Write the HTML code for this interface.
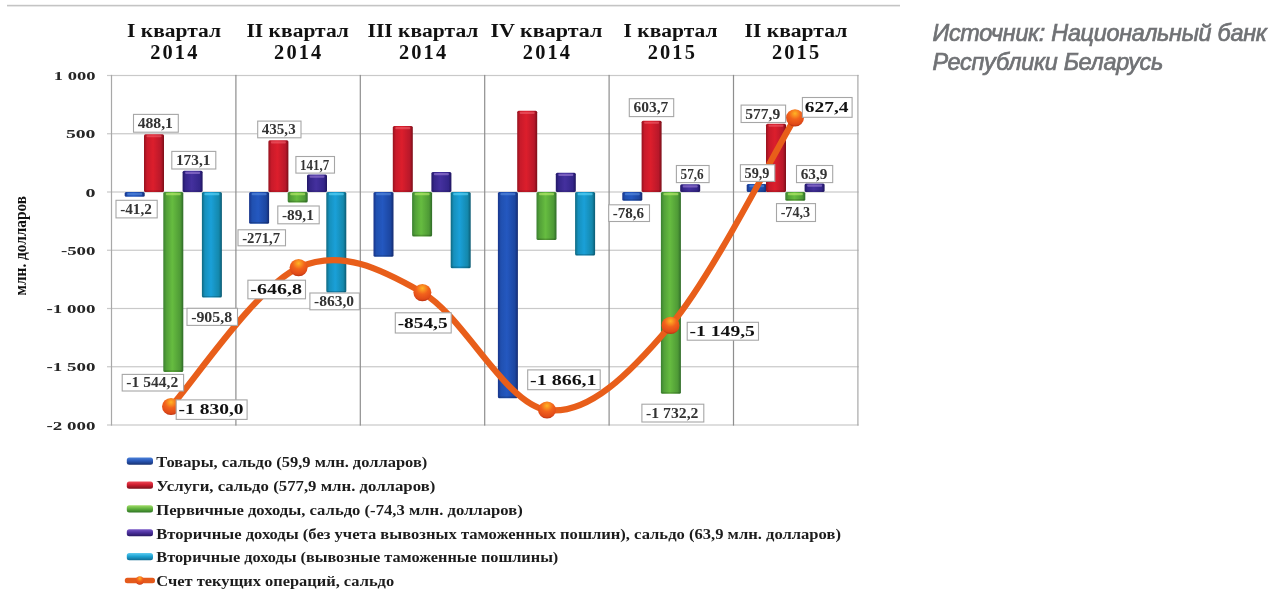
<!DOCTYPE html>
<html><head><meta charset="utf-8"><style>
html,body{margin:0;padding:0;background:#fff;}
body{width:1273px;height:594px;position:relative;overflow:hidden;}
svg{position:absolute;left:0;top:0;font-family:"Liberation Serif",serif;filter:blur(0.35px);}
</style></head><body>
<svg width="1273" height="594" viewBox="0 0 1273 594">
<defs>
<linearGradient id="gB" x1="0" x2="1" y1="0" y2="0">
 <stop offset="0" stop-color="#18348a"/><stop offset="0.15" stop-color="#2050b0"/><stop offset="0.45" stop-color="#2458c0"/><stop offset="0.85" stop-color="#1c46a0"/><stop offset="1" stop-color="#142a70"/></linearGradient>
<linearGradient id="gR" x1="0" x2="1" y1="0" y2="0">
 <stop offset="0" stop-color="#96121e"/><stop offset="0.15" stop-color="#c81a2a"/><stop offset="0.45" stop-color="#dc1e2c"/><stop offset="0.85" stop-color="#b8182a"/><stop offset="1" stop-color="#7c0e18"/></linearGradient>
<linearGradient id="gG" x1="0" x2="1" y1="0" y2="0">
 <stop offset="0" stop-color="#3a8030"/><stop offset="0.15" stop-color="#52a038"/><stop offset="0.45" stop-color="#66bc40"/><stop offset="0.85" stop-color="#4e9a36"/><stop offset="1" stop-color="#2e6a28"/></linearGradient>
<linearGradient id="gP" x1="0" x2="1" y1="0" y2="0">
 <stop offset="0" stop-color="#221866"/><stop offset="0.15" stop-color="#36268a"/><stop offset="0.45" stop-color="#44309e"/><stop offset="0.85" stop-color="#34268a"/><stop offset="1" stop-color="#1e145e"/></linearGradient>
<linearGradient id="gC" x1="0" x2="1" y1="0" y2="0">
 <stop offset="0" stop-color="#0e6880"/><stop offset="0.15" stop-color="#1690bc"/><stop offset="0.45" stop-color="#1aa0d8"/><stop offset="0.85" stop-color="#1488ac"/><stop offset="1" stop-color="#0c5a72"/></linearGradient>
<radialGradient id="gM" cx="0.5" cy="0.25" r="0.75">
 <stop offset="0" stop-color="#ffb424"/><stop offset="0.45" stop-color="#f2621c"/><stop offset="0.85" stop-color="#e04a18"/><stop offset="1" stop-color="#b83010"/></radialGradient>
</defs>
<defs><linearGradient id="gBV" x1="0" x2="0" y1="0" y2="1"><stop offset="0" stop-color="#4a80d8"/><stop offset="0.45" stop-color="#2a58b8"/><stop offset="1" stop-color="#16306e"/></linearGradient><linearGradient id="gRV" x1="0" x2="0" y1="0" y2="1"><stop offset="0" stop-color="#f04a58"/><stop offset="0.45" stop-color="#d01e30"/><stop offset="1" stop-color="#7c0e18"/></linearGradient><linearGradient id="gGV" x1="0" x2="0" y1="0" y2="1"><stop offset="0" stop-color="#a0dc68"/><stop offset="0.45" stop-color="#64b440"/><stop offset="1" stop-color="#2e7424"/></linearGradient><linearGradient id="gPV" x1="0" x2="0" y1="0" y2="1"><stop offset="0" stop-color="#7a5ac8"/><stop offset="0.45" stop-color="#4e32a0"/><stop offset="1" stop-color="#261660"/></linearGradient><linearGradient id="gCV" x1="0" x2="0" y1="0" y2="1"><stop offset="0" stop-color="#60ccf0"/><stop offset="0.45" stop-color="#1ea4d4"/><stop offset="1" stop-color="#106c94"/></linearGradient></defs>
<rect x="7" y="4.8" width="893" height="1.6" fill="#c4c4c4"/>
<rect x="107" y="74.90" width="751.70" height="1.2" fill="#c9c9c9"/>
<rect x="107" y="133.15" width="751.70" height="1.2" fill="#c9c9c9"/>
<rect x="107" y="191.40" width="751.70" height="1.2" fill="#c9c9c9"/>
<rect x="107" y="249.65" width="751.70" height="1.2" fill="#c9c9c9"/>
<rect x="107" y="307.90" width="751.70" height="1.2" fill="#c9c9c9"/>
<rect x="107" y="366.15" width="751.70" height="1.2" fill="#c9c9c9"/>
<rect x="107" y="424.40" width="751.70" height="1.2" fill="#c9c9c9"/>
<rect x="110.90" y="74.90" width="1.2" height="350.70" fill="#a8a8a8"/>
<rect x="235.30" y="74.90" width="1.2" height="350.70" fill="#8e8e8e"/>
<rect x="359.70" y="74.90" width="1.2" height="350.70" fill="#8e8e8e"/>
<rect x="484.10" y="74.90" width="1.2" height="350.70" fill="#8e8e8e"/>
<rect x="608.50" y="74.90" width="1.2" height="350.70" fill="#8e8e8e"/>
<rect x="732.90" y="74.90" width="1.2" height="350.70" fill="#8e8e8e"/>
<rect x="857.30" y="74.90" width="1.2" height="350.70" fill="#a8a8a8"/>
<rect x="124.70" y="192.00" width="20" height="4.80" rx="1.5" fill="url(#gB)"/>
<rect x="127.20" y="193.00" width="15" height="2.20" rx="1" fill="#5a8ee0" opacity="0.6"/>
<rect x="144.00" y="134.14" width="20" height="57.86" rx="1.5" fill="url(#gR)"/>
<rect x="146.50" y="135.14" width="15" height="2.20" rx="1" fill="#f0606c" opacity="0.6"/>
<rect x="145.00" y="190.40" width="18" height="1.4" rx="0.7" fill="#000" opacity="0.18"/>
<rect x="163.30" y="192.00" width="20" height="179.90" rx="1.5" fill="url(#gG)"/>
<rect x="165.80" y="193.00" width="15" height="2.20" rx="1" fill="#c0f070" opacity="0.6"/>
<rect x="164.30" y="370.30" width="18" height="1.4" rx="0.7" fill="#000" opacity="0.18"/>
<rect x="182.60" y="170.83" width="20" height="21.17" rx="1.5" fill="url(#gP)"/>
<rect x="185.10" y="171.83" width="15" height="2.20" rx="1" fill="#a080d8" opacity="0.6"/>
<rect x="183.60" y="190.40" width="18" height="1.4" rx="0.7" fill="#000" opacity="0.18"/>
<rect x="201.90" y="192.00" width="20" height="105.53" rx="1.5" fill="url(#gC)"/>
<rect x="204.40" y="193.00" width="15" height="2.20" rx="1" fill="#60d8fa" opacity="0.6"/>
<rect x="202.90" y="295.93" width="18" height="1.4" rx="0.7" fill="#000" opacity="0.18"/>
<rect x="249.10" y="192.00" width="20" height="31.65" rx="1.5" fill="url(#gB)"/>
<rect x="251.60" y="193.00" width="15" height="2.20" rx="1" fill="#5a8ee0" opacity="0.6"/>
<rect x="250.10" y="222.05" width="18" height="1.4" rx="0.7" fill="#000" opacity="0.18"/>
<rect x="268.40" y="140.29" width="20" height="51.71" rx="1.5" fill="url(#gR)"/>
<rect x="270.90" y="141.29" width="15" height="2.20" rx="1" fill="#f0606c" opacity="0.6"/>
<rect x="269.40" y="190.40" width="18" height="1.4" rx="0.7" fill="#000" opacity="0.18"/>
<rect x="287.70" y="192.00" width="20" height="10.38" rx="1.5" fill="url(#gG)"/>
<rect x="290.20" y="193.00" width="15" height="2.20" rx="1" fill="#c0f070" opacity="0.6"/>
<rect x="288.70" y="200.78" width="18" height="1.4" rx="0.7" fill="#000" opacity="0.18"/>
<rect x="307.00" y="174.49" width="20" height="17.51" rx="1.5" fill="url(#gP)"/>
<rect x="309.50" y="175.49" width="15" height="2.20" rx="1" fill="#a080d8" opacity="0.6"/>
<rect x="308.00" y="190.40" width="18" height="1.4" rx="0.7" fill="#000" opacity="0.18"/>
<rect x="326.30" y="192.00" width="20" height="100.54" rx="1.5" fill="url(#gC)"/>
<rect x="328.80" y="193.00" width="15" height="2.20" rx="1" fill="#60d8fa" opacity="0.6"/>
<rect x="327.30" y="290.94" width="18" height="1.4" rx="0.7" fill="#000" opacity="0.18"/>
<rect x="373.50" y="192.00" width="20" height="64.77" rx="1.5" fill="url(#gB)"/>
<rect x="376.00" y="193.00" width="15" height="2.20" rx="1" fill="#5a8ee0" opacity="0.6"/>
<rect x="374.50" y="255.17" width="18" height="1.4" rx="0.7" fill="#000" opacity="0.18"/>
<rect x="392.80" y="125.99" width="20" height="66.01" rx="1.5" fill="url(#gR)"/>
<rect x="395.30" y="126.99" width="15" height="2.20" rx="1" fill="#f0606c" opacity="0.6"/>
<rect x="393.80" y="190.40" width="18" height="1.4" rx="0.7" fill="#000" opacity="0.18"/>
<rect x="412.10" y="192.00" width="20" height="44.39" rx="1.5" fill="url(#gG)"/>
<rect x="414.60" y="193.00" width="15" height="2.20" rx="1" fill="#c0f070" opacity="0.6"/>
<rect x="413.10" y="234.79" width="18" height="1.4" rx="0.7" fill="#000" opacity="0.18"/>
<rect x="431.40" y="172.01" width="20" height="19.99" rx="1.5" fill="url(#gP)"/>
<rect x="433.90" y="173.01" width="15" height="2.20" rx="1" fill="#a080d8" opacity="0.6"/>
<rect x="432.40" y="190.40" width="18" height="1.4" rx="0.7" fill="#000" opacity="0.18"/>
<rect x="450.70" y="192.00" width="20" height="76.19" rx="1.5" fill="url(#gC)"/>
<rect x="453.20" y="193.00" width="15" height="2.20" rx="1" fill="#60d8fa" opacity="0.6"/>
<rect x="451.70" y="266.59" width="18" height="1.4" rx="0.7" fill="#000" opacity="0.18"/>
<rect x="497.90" y="192.00" width="20" height="206.21" rx="1.5" fill="url(#gB)"/>
<rect x="500.40" y="193.00" width="15" height="2.20" rx="1" fill="#5a8ee0" opacity="0.6"/>
<rect x="498.90" y="396.61" width="18" height="1.4" rx="0.7" fill="#000" opacity="0.18"/>
<rect x="517.20" y="110.85" width="20" height="81.15" rx="1.5" fill="url(#gR)"/>
<rect x="519.70" y="111.85" width="15" height="2.20" rx="1" fill="#f0606c" opacity="0.6"/>
<rect x="518.20" y="190.40" width="18" height="1.4" rx="0.7" fill="#000" opacity="0.18"/>
<rect x="536.50" y="192.00" width="20" height="48.11" rx="1.5" fill="url(#gG)"/>
<rect x="539.00" y="193.00" width="15" height="2.20" rx="1" fill="#c0f070" opacity="0.6"/>
<rect x="537.50" y="238.51" width="18" height="1.4" rx="0.7" fill="#000" opacity="0.18"/>
<rect x="555.80" y="172.83" width="20" height="19.17" rx="1.5" fill="url(#gP)"/>
<rect x="558.30" y="173.83" width="15" height="2.20" rx="1" fill="#a080d8" opacity="0.6"/>
<rect x="556.80" y="190.40" width="18" height="1.4" rx="0.7" fill="#000" opacity="0.18"/>
<rect x="575.10" y="192.00" width="20" height="63.61" rx="1.5" fill="url(#gC)"/>
<rect x="577.60" y="193.00" width="15" height="2.20" rx="1" fill="#60d8fa" opacity="0.6"/>
<rect x="576.10" y="254.01" width="18" height="1.4" rx="0.7" fill="#000" opacity="0.18"/>
<rect x="622.30" y="192.00" width="20" height="8.74" rx="1.5" fill="url(#gB)"/>
<rect x="624.80" y="193.00" width="15" height="2.20" rx="1" fill="#5a8ee0" opacity="0.6"/>
<rect x="623.30" y="199.14" width="18" height="1.4" rx="0.7" fill="#000" opacity="0.18"/>
<rect x="641.60" y="120.67" width="20" height="71.33" rx="1.5" fill="url(#gR)"/>
<rect x="644.10" y="121.67" width="15" height="2.20" rx="1" fill="#f0606c" opacity="0.6"/>
<rect x="642.60" y="190.40" width="18" height="1.4" rx="0.7" fill="#000" opacity="0.18"/>
<rect x="660.90" y="192.00" width="20" height="201.80" rx="1.5" fill="url(#gG)"/>
<rect x="663.40" y="193.00" width="15" height="2.20" rx="1" fill="#c0f070" opacity="0.6"/>
<rect x="661.90" y="392.20" width="18" height="1.4" rx="0.7" fill="#000" opacity="0.18"/>
<rect x="680.20" y="184.29" width="20" height="7.71" rx="1.5" fill="url(#gP)"/>
<rect x="682.70" y="185.29" width="15" height="2.20" rx="1" fill="#a080d8" opacity="0.6"/>
<rect x="681.20" y="190.40" width="18" height="1.4" rx="0.7" fill="#000" opacity="0.18"/>
<rect x="746.70" y="184.02" width="20" height="7.98" rx="1.5" fill="url(#gB)"/>
<rect x="749.20" y="185.02" width="15" height="2.20" rx="1" fill="#5a8ee0" opacity="0.6"/>
<rect x="747.70" y="190.40" width="18" height="1.4" rx="0.7" fill="#000" opacity="0.18"/>
<rect x="766.00" y="123.67" width="20" height="68.33" rx="1.5" fill="url(#gR)"/>
<rect x="768.50" y="124.67" width="15" height="2.20" rx="1" fill="#f0606c" opacity="0.6"/>
<rect x="767.00" y="190.40" width="18" height="1.4" rx="0.7" fill="#000" opacity="0.18"/>
<rect x="785.30" y="192.00" width="20" height="8.66" rx="1.5" fill="url(#gG)"/>
<rect x="787.80" y="193.00" width="15" height="2.20" rx="1" fill="#c0f070" opacity="0.6"/>
<rect x="786.30" y="199.06" width="18" height="1.4" rx="0.7" fill="#000" opacity="0.18"/>
<rect x="804.60" y="183.56" width="20" height="8.44" rx="1.5" fill="url(#gP)"/>
<rect x="807.10" y="184.56" width="15" height="2.20" rx="1" fill="#a080d8" opacity="0.6"/>
<rect x="805.60" y="190.40" width="18" height="1.4" rx="0.7" fill="#000" opacity="0.18"/>
<path d="M171.00,406.50 C192.27,383.35 256.70,286.58 298.60,267.60 C340.50,248.62 381.00,268.87 422.40,292.60 C463.80,316.33 505.65,404.53 547.00,410.00 C588.35,415.47 629.17,374.10 670.50,325.40 C711.83,276.70 774.25,152.40 795.00,117.80" fill="none" stroke="#e85e1a" stroke-width="6.2" stroke-linecap="round"/>
<ellipse cx="171.0" cy="406.5" rx="9" ry="8.6" fill="url(#gM)"/>
<ellipse cx="298.6" cy="267.6" rx="9" ry="8.6" fill="url(#gM)"/>
<ellipse cx="422.4" cy="292.6" rx="9" ry="8.6" fill="url(#gM)"/>
<ellipse cx="547.0" cy="410.0" rx="9" ry="8.6" fill="url(#gM)"/>
<ellipse cx="670.5" cy="325.4" rx="9" ry="8.6" fill="url(#gM)"/>
<ellipse cx="795.0" cy="117.8" rx="9" ry="8.6" fill="url(#gM)"/>
<rect x="133.50" y="114.40" width="44.80" height="17.80" fill="#fff" stroke="#a6a6a6" stroke-width="1.1"/>
<text x="137.65" y="128.00" textLength="35.30" lengthAdjust="spacingAndGlyphs" font-size="13.6" font-weight="bold" fill="#333">488,1</text>
<rect x="171.80" y="151.40" width="44.00" height="17.60" fill="#fff" stroke="#a6a6a6" stroke-width="1.1"/>
<text x="175.95" y="164.90" textLength="34.50" lengthAdjust="spacingAndGlyphs" font-size="13.6" font-weight="bold" fill="#333">173,1</text>
<rect x="116.00" y="200.30" width="41.20" height="17.60" fill="#fff" stroke="#a6a6a6" stroke-width="1.1"/>
<text x="120.15" y="213.80" textLength="31.70" lengthAdjust="spacingAndGlyphs" font-size="13.6" font-weight="bold" fill="#333">-41,2</text>
<rect x="187.00" y="308.30" width="50.50" height="17.10" fill="#fff" stroke="#a6a6a6" stroke-width="1.1"/>
<text x="191.15" y="321.55" textLength="41.00" lengthAdjust="spacingAndGlyphs" font-size="13.6" font-weight="bold" fill="#333">-905,8</text>
<rect x="122.20" y="374.40" width="61.40" height="16.60" fill="#fff" stroke="#a6a6a6" stroke-width="1.1"/>
<text x="126.35" y="387.40" textLength="51.90" lengthAdjust="spacingAndGlyphs" font-size="13.6" font-weight="bold" fill="#333">-1 544,2</text>
<rect x="176.20" y="399.90" width="70.90" height="19.50" fill="#fff" stroke="#a6a6a6" stroke-width="1.1"/>
<text x="178.60" y="414.35" textLength="64.90" lengthAdjust="spacingAndGlyphs" font-size="14.3" font-weight="bold" fill="#111">-1 830,0</text>
<rect x="257.70" y="121.10" width="43.30" height="16.70" fill="#fff" stroke="#a6a6a6" stroke-width="1.1"/>
<text x="261.85" y="134.15" textLength="33.80" lengthAdjust="spacingAndGlyphs" font-size="13.6" font-weight="bold" fill="#333">435,3</text>
<rect x="295.90" y="156.50" width="38.60" height="16.60" fill="#fff" stroke="#a6a6a6" stroke-width="1.1"/>
<text x="300.05" y="169.50" textLength="29.10" lengthAdjust="spacingAndGlyphs" font-size="13.6" font-weight="bold" fill="#333">141,7</text>
<rect x="277.80" y="206.00" width="41.40" height="17.80" fill="#fff" stroke="#a6a6a6" stroke-width="1.1"/>
<text x="281.95" y="219.60" textLength="31.90" lengthAdjust="spacingAndGlyphs" font-size="13.6" font-weight="bold" fill="#333">-89,1</text>
<rect x="238.00" y="229.80" width="47.50" height="16.00" fill="#fff" stroke="#a6a6a6" stroke-width="1.1"/>
<text x="242.15" y="242.50" textLength="38.00" lengthAdjust="spacingAndGlyphs" font-size="13.6" font-weight="bold" fill="#333">-271,7</text>
<rect x="247.90" y="280.20" width="57.60" height="18.60" fill="#fff" stroke="#a6a6a6" stroke-width="1.1"/>
<text x="250.30" y="294.20" textLength="51.60" lengthAdjust="spacingAndGlyphs" font-size="14.3" font-weight="bold" fill="#111">-646,8</text>
<rect x="309.90" y="293.00" width="49.50" height="16.80" fill="#fff" stroke="#a6a6a6" stroke-width="1.1"/>
<text x="314.05" y="306.10" textLength="40.00" lengthAdjust="spacingAndGlyphs" font-size="13.6" font-weight="bold" fill="#333">-863,0</text>
<rect x="395.30" y="312.80" width="55.90" height="20.20" fill="#fff" stroke="#a6a6a6" stroke-width="1.1"/>
<text x="397.70" y="327.60" textLength="49.90" lengthAdjust="spacingAndGlyphs" font-size="14.3" font-weight="bold" fill="#111">-854,5</text>
<rect x="527.70" y="369.90" width="72.50" height="19.80" fill="#fff" stroke="#a6a6a6" stroke-width="1.1"/>
<text x="530.10" y="384.50" textLength="66.50" lengthAdjust="spacingAndGlyphs" font-size="14.3" font-weight="bold" fill="#111">-1 866,1</text>
<rect x="629.30" y="98.70" width="44.40" height="17.90" fill="#fff" stroke="#a6a6a6" stroke-width="1.1"/>
<text x="633.45" y="112.35" textLength="34.90" lengthAdjust="spacingAndGlyphs" font-size="13.6" font-weight="bold" fill="#333">603,7</text>
<rect x="676.40" y="165.50" width="32.70" height="17.10" fill="#fff" stroke="#a6a6a6" stroke-width="1.1"/>
<text x="680.55" y="178.75" textLength="23.20" lengthAdjust="spacingAndGlyphs" font-size="13.6" font-weight="bold" fill="#333">57,6</text>
<rect x="608.70" y="204.80" width="40.80" height="16.70" fill="#fff" stroke="#a6a6a6" stroke-width="1.1"/>
<text x="612.85" y="217.85" textLength="31.30" lengthAdjust="spacingAndGlyphs" font-size="13.6" font-weight="bold" fill="#333">-78,6</text>
<rect x="687.20" y="322.30" width="71.30" height="17.90" fill="#fff" stroke="#a6a6a6" stroke-width="1.1"/>
<text x="689.60" y="335.95" textLength="65.30" lengthAdjust="spacingAndGlyphs" font-size="14.3" font-weight="bold" fill="#111">-1 149,5</text>
<rect x="641.90" y="404.20" width="61.90" height="17.80" fill="#fff" stroke="#a6a6a6" stroke-width="1.1"/>
<text x="646.05" y="417.80" textLength="52.40" lengthAdjust="spacingAndGlyphs" font-size="13.6" font-weight="bold" fill="#333">-1 732,2</text>
<rect x="741.10" y="105.10" width="44.50" height="17.40" fill="#fff" stroke="#a6a6a6" stroke-width="1.1"/>
<text x="745.25" y="118.50" textLength="35.00" lengthAdjust="spacingAndGlyphs" font-size="13.6" font-weight="bold" fill="#333">577,9</text>
<rect x="802.40" y="97.50" width="49.70" height="19.80" fill="#fff" stroke="#a6a6a6" stroke-width="1.1"/>
<text x="804.80" y="112.10" textLength="43.70" lengthAdjust="spacingAndGlyphs" font-size="14.3" font-weight="bold" fill="#111">627,4</text>
<rect x="740.40" y="164.70" width="34.40" height="16.70" fill="#fff" stroke="#a6a6a6" stroke-width="1.1"/>
<text x="744.55" y="177.75" textLength="24.90" lengthAdjust="spacingAndGlyphs" font-size="13.6" font-weight="bold" fill="#333">59,9</text>
<rect x="796.50" y="165.50" width="36.20" height="17.10" fill="#fff" stroke="#a6a6a6" stroke-width="1.1"/>
<text x="800.65" y="178.75" textLength="26.70" lengthAdjust="spacingAndGlyphs" font-size="13.6" font-weight="bold" fill="#333">63,9</text>
<rect x="776.50" y="203.60" width="39.00" height="17.90" fill="#fff" stroke="#a6a6a6" stroke-width="1.1"/>
<text x="780.65" y="217.25" textLength="29.50" lengthAdjust="spacingAndGlyphs" font-size="13.6" font-weight="bold" fill="#333">-74,3</text>
<text x="53.80" y="80.10" textLength="41.70" lengthAdjust="spacingAndGlyphs" font-size="13.2" font-weight="bold" fill="#262626">1 000</text>
<text x="65.90" y="138.35" textLength="29.60" lengthAdjust="spacingAndGlyphs" font-size="13.2" font-weight="bold" fill="#262626">500</text>
<text x="85.50" y="196.60" textLength="10.00" lengthAdjust="spacingAndGlyphs" font-size="13.2" font-weight="bold" fill="#262626">0</text>
<text x="60.90" y="254.85" textLength="34.60" lengthAdjust="spacingAndGlyphs" font-size="13.2" font-weight="bold" fill="#262626">-500</text>
<text x="46.50" y="313.10" textLength="49.00" lengthAdjust="spacingAndGlyphs" font-size="13.2" font-weight="bold" fill="#262626">-1 000</text>
<text x="46.50" y="371.35" textLength="49.00" lengthAdjust="spacingAndGlyphs" font-size="13.2" font-weight="bold" fill="#262626">-1 500</text>
<text x="46.50" y="429.60" textLength="49.00" lengthAdjust="spacingAndGlyphs" font-size="13.2" font-weight="bold" fill="#262626">-2 000</text>
<text transform="translate(26.2,245.7) rotate(-90)" x="-49.7" y="0" textLength="99.4" lengthAdjust="spacingAndGlyphs" font-size="16" font-weight="bold" fill="#111">млн. долларов</text>
<text transform="translate(174.00,36.5) scale(1,0.9)" x="0" y="0" text-anchor="middle" textLength="94.00" lengthAdjust="spacingAndGlyphs" font-size="21" font-weight="bold" fill="#111">I квартал</text>
<text x="173.80" y="59.2" text-anchor="middle" textLength="47.2" lengthAdjust="spacing" font-size="20.4" font-weight="bold" fill="#111">2014</text>
<text transform="translate(297.70,36.5) scale(1,0.9)" x="0" y="0" text-anchor="middle" textLength="102.40" lengthAdjust="spacingAndGlyphs" font-size="21" font-weight="bold" fill="#111">II квартал</text>
<text x="297.70" y="59.2" text-anchor="middle" textLength="47.2" lengthAdjust="spacing" font-size="20.4" font-weight="bold" fill="#111">2014</text>
<text transform="translate(423.00,36.5) scale(1,0.9)" x="0" y="0" text-anchor="middle" textLength="110.90" lengthAdjust="spacingAndGlyphs" font-size="21" font-weight="bold" fill="#111">III квартал</text>
<text x="422.50" y="59.2" text-anchor="middle" textLength="47.2" lengthAdjust="spacing" font-size="20.4" font-weight="bold" fill="#111">2014</text>
<text transform="translate(546.40,36.5) scale(1,0.9)" x="0" y="0" text-anchor="middle" textLength="111.90" lengthAdjust="spacingAndGlyphs" font-size="21" font-weight="bold" fill="#111">IV квартал</text>
<text x="546.40" y="59.2" text-anchor="middle" textLength="47.2" lengthAdjust="spacing" font-size="20.4" font-weight="bold" fill="#111">2014</text>
<text transform="translate(670.50,36.5) scale(1,0.9)" x="0" y="0" text-anchor="middle" textLength="93.90" lengthAdjust="spacingAndGlyphs" font-size="21" font-weight="bold" fill="#111">I квартал</text>
<text x="671.30" y="59.2" text-anchor="middle" textLength="47.2" lengthAdjust="spacing" font-size="20.4" font-weight="bold" fill="#111">2015</text>
<text transform="translate(795.90,36.5) scale(1,0.9)" x="0" y="0" text-anchor="middle" textLength="102.70" lengthAdjust="spacingAndGlyphs" font-size="21" font-weight="bold" fill="#111">II квартал</text>
<text x="795.50" y="59.2" text-anchor="middle" textLength="47.2" lengthAdjust="spacing" font-size="20.4" font-weight="bold" fill="#111">2015</text>
<text x="932.5" y="40.8" textLength="334" lengthAdjust="spacingAndGlyphs" font-family="Liberation Sans" font-style="italic" font-size="23.5" letter-spacing="-0.3" fill="#707275" stroke="#707275" stroke-width="0.7">Источник: Национальный банк</text>
<text x="932.5" y="69.5" textLength="230.5" lengthAdjust="spacingAndGlyphs" font-family="Liberation Sans" font-style="italic" font-size="23.5" letter-spacing="-0.3" fill="#707275" stroke="#707275" stroke-width="0.7">Республики Беларусь</text>
<rect x="126.8" y="457.60" width="26.2" height="7.2" rx="2.5" fill="url(#gBV)"/>
<text transform="translate(156.3,467.00) scale(1,0.9)" x="0" y="0" textLength="271.00" lengthAdjust="spacingAndGlyphs" font-size="16.2" font-weight="bold" fill="#1c1c1c">Товары, сальдо (59,9 млн. долларов)</text>
<rect x="126.8" y="481.45" width="26.2" height="7.2" rx="2.5" fill="url(#gRV)"/>
<text transform="translate(156.3,490.85) scale(1,0.9)" x="0" y="0" textLength="279.00" lengthAdjust="spacingAndGlyphs" font-size="16.2" font-weight="bold" fill="#1c1c1c">Услуги, сальдо (577,9 млн. долларов)</text>
<rect x="126.8" y="505.30" width="26.2" height="7.2" rx="2.5" fill="url(#gGV)"/>
<text transform="translate(156.3,514.70) scale(1,0.9)" x="0" y="0" textLength="366.40" lengthAdjust="spacingAndGlyphs" font-size="16.2" font-weight="bold" fill="#1c1c1c">Первичные доходы, сальдо (-74,3 млн. долларов)</text>
<rect x="126.8" y="529.15" width="26.2" height="7.2" rx="2.5" fill="url(#gPV)"/>
<text transform="translate(156.3,538.55) scale(1,0.9)" x="0" y="0" textLength="684.60" lengthAdjust="spacingAndGlyphs" font-size="16.2" font-weight="bold" fill="#1c1c1c">Вторичные доходы (без учета вывозных таможенных пошлин), сальдо (63,9 млн. долларов)</text>
<rect x="126.8" y="553.00" width="26.2" height="7.2" rx="2.5" fill="url(#gCV)"/>
<text transform="translate(156.3,562.40) scale(1,0.9)" x="0" y="0" textLength="402.00" lengthAdjust="spacingAndGlyphs" font-size="16.2" font-weight="bold" fill="#1c1c1c">Вторичные доходы (вывозные таможенные пошлины)</text>
<rect x="124.8" y="577.75" width="30.2" height="5.6" rx="2.5" fill="#e45a1c"/>
<ellipse cx="139.8" cy="580.45" rx="4.2" ry="4.2" fill="url(#gM)"/>
<text transform="translate(156.3,586.25) scale(1,0.9)" x="0" y="0" textLength="237.80" lengthAdjust="spacingAndGlyphs" font-size="16.2" font-weight="bold" fill="#1c1c1c">Счет текущих операций, сальдо</text>
</svg>
</body></html>
